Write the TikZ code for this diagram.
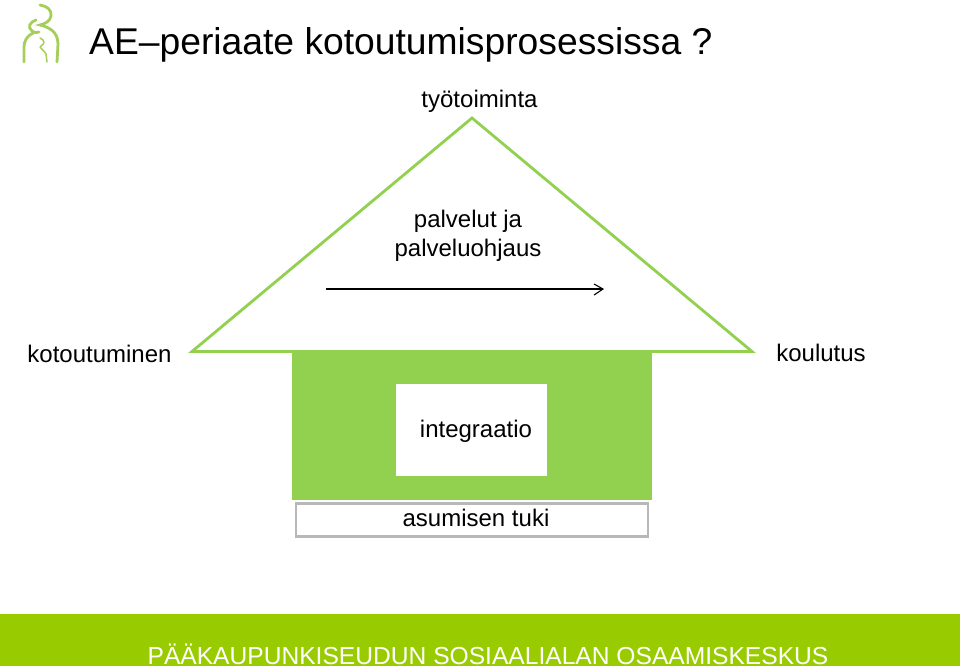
\documentclass[tikz,border=0pt]{standalone}
\usepackage{fontspec}
\setmainfont{Liberation Sans}
\definecolor{housegreen}{HTML}{92D050}
\definecolor{footgreen}{HTML}{99CC00}
\definecolor{logogreen}{HTML}{A6CF5A}
\definecolor{boxgray}{HTML}{B8B8B8}
\tikzset{
  lbl/.style={inner sep=0pt,anchor=base,text=black,font=\fontsize{24}{26}\selectfont},
  logoline/.style={draw=logogreen,line width=2.8pt,line cap=round,fill=none},
  logothin/.style={draw=logogreen,line width=1.5pt,line cap=round,fill=none}
}
\begin{document}
\begin{tikzpicture}[x=1pt,y=-1pt]
\useasboundingbox (0,0) rectangle (960,666);
\fill[white] (0,0) rectangle (960,666);
% logo
\draw[logoline] (40,5) .. controls (47,6) and (52,10) .. (51,16) .. controls (50,22) and (44,24) .. (40,25) .. controls (48,27) and (58,31) .. (58,44) -- (57,62);
\draw[logoline] (36,20) .. controls (30,22) and (27,27) .. (32,31) .. controls (35,33) and (37,33) .. (39,32);
\draw[logoline] (33,33) .. controls (27,36) and (24,41) .. (24,47) -- (24,62);
\draw[logothin] (40,38) .. controls (45,40) and (45,44) .. (41,46) .. controls (38,47) and (44,50) .. (46,54) -- (47,62);
% title
\node[inner sep=0pt,anchor=base west,font=\fontsize{37.25}{40}\selectfont] (title) at (89,55) {AE–periaate kotoutumisprosessissa ?};
% house
\fill[housegreen] (292,351) rectangle (652,500);
\draw[housegreen,line width=2.8pt,line join=miter] (192,351.5) -- (472,118) -- (752,351.5) -- cycle;
\fill[housegreen] (292,350) rectangle (652,353);
\node[fill=white,minimum width=151pt,minimum height=92pt,inner sep=0pt] (integ) at (471.5,430) {};
\node[lbl] (integt) at (476,437) {integraatio};
\node[draw=boxgray,line width=2.4pt,fill=white,minimum width=352pt,minimum height=33pt,inner sep=0pt] (tuki) at (472,520) {};
\node[lbl] (tukit) at (476,526.5) {asumisen tuki};
% labels
\node[lbl] (tyo) at (479.5,107.5) {työtoiminta};
\node[lbl] (pal1) at (468,227) {palvelut ja};
\node[lbl] (pal2) at (468,256) {palveluohjaus};
\node[lbl] (kot) at (99.5,362) {kotoutuminen};
\node[lbl] (kou) at (821,361) {koulutus};
% arrow
\coordinate (a1) at (326,289);
\coordinate (a2) at (603,289);
\draw[black,line width=1.1pt] (a1) -- (a2);
\draw[black,line width=1.1pt] (594,284) -- (603,289) -- (594,295);
% footer
\fill[footgreen] (0,614) rectangle (960,666);
\node[inner sep=0pt,anchor=base,text=white,font=\fontsize{24.6}{26}\selectfont] (foot) at (488,664.5) {PÄÄKAUPUNKISEUDUN SOSIAALIALAN OSAAMISKESKUS};
\end{tikzpicture}
\end{document}
